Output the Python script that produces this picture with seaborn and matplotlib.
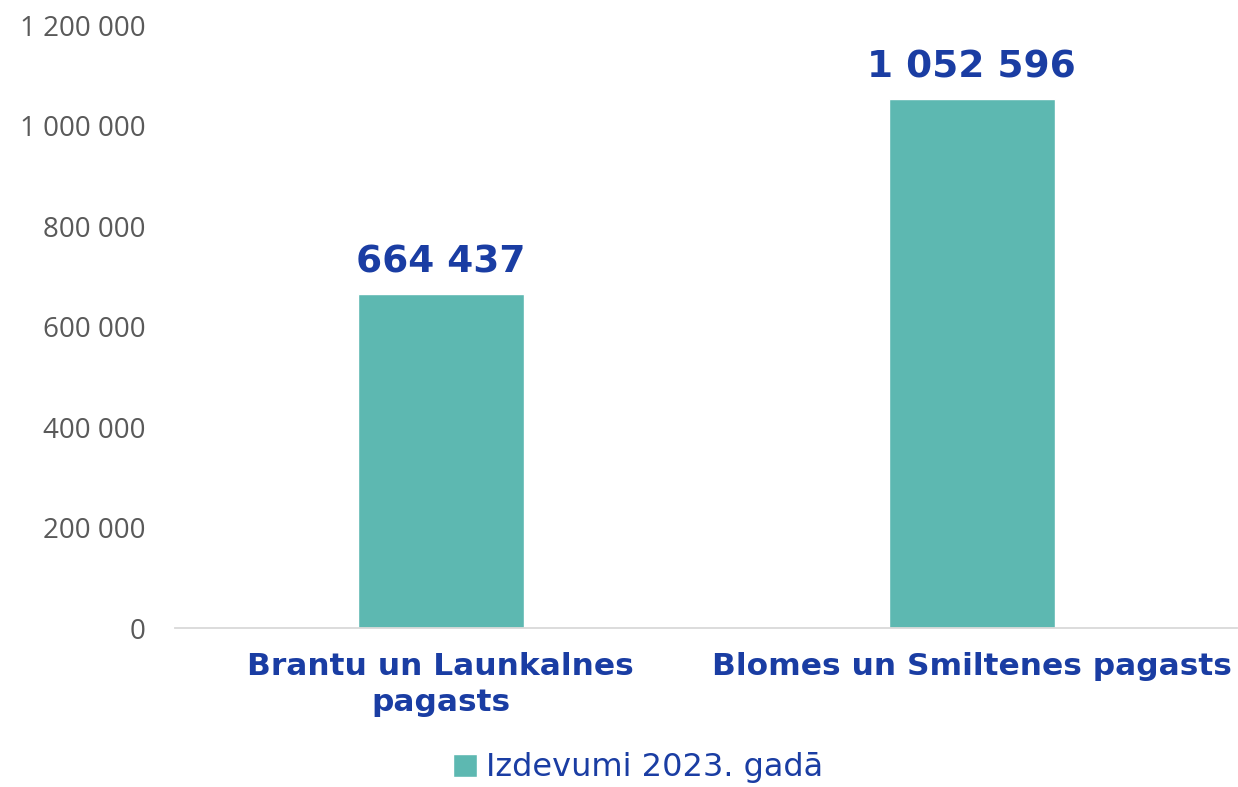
## Izdevumi 2023. gadā - bar chart
import matplotlib
matplotlib.use("Agg")
import matplotlib.pyplot as plt
import seaborn as sns

categories = ["Brantu un Launkalnes\npagasts", "Blomes un Smiltenes pagasts"]
values = [664437, 1052596]
value_labels = ["664 437", "1 052 596"]
yticks = [0, 200000, 400000, 600000, 800000, 1000000, 1200000]
ytick_labels = ["0", "200 000", "400 000", "600 000", "800 000", "1 000 000", "1 200 000"]
series_name = "Izdevumi 2023. gadā"

bar_color = "#5DB8B1"
blue = "#1A3DA3"
grey = "#595959"

sns.set_style("white")
plt.rcParams["font.family"] = ["DejaVu Sans"]

fig = plt.figure(figsize=(12.38, 7.87), dpi=100)
ax = fig.add_axes([0.1414, 0.2020, 0.858, 0.7662])

sns.barplot(x=categories, y=values, color=bar_color, width=0.3125,
            saturation=1, label=series_name, ax=ax)

ax.set_ylim(0, 1200000)
ax.set_xlim(-0.5, 1.5)
ax.set_yticks(yticks)
ax.set_yticklabels(ytick_labels, fontsize=20, color=grey, family=["Open Sans", "DejaVu Sans"])
ax.tick_params(axis="y", length=0, pad=21)
ax.tick_params(axis="x", length=0, pad=17)
for t in ax.get_xticklabels():
    t.set_fontsize(22.5)
    t.set_fontweight("bold")
    t.set_color(blue)
    t.set_linespacing(1.3)

for i, (v, lab) in enumerate(zip(values, value_labels)):
    ax.annotate(lab, (i, v), xytext=(0, 10), textcoords="offset points",
                ha="center", va="bottom", fontsize=27, fontweight="bold", color=blue)

for s in ["top", "right", "left"]:
    ax.spines[s].set_visible(False)
ax.spines["bottom"].set_color("#D9D9D9")
ax.spines["bottom"].set_linewidth(1.3)
ax.set_xlabel("")
ax.set_ylabel("")

leg = ax.legend(loc="center", bbox_to_anchor=(0.436, -0.232), frameon=False,
                fontsize=23, handlelength=0.75, handleheight=0.75, handletextpad=0.3,
                borderpad=0)
for t in leg.get_texts():
    t.set_color(blue)

fig.savefig("out.png", dpi=100)
